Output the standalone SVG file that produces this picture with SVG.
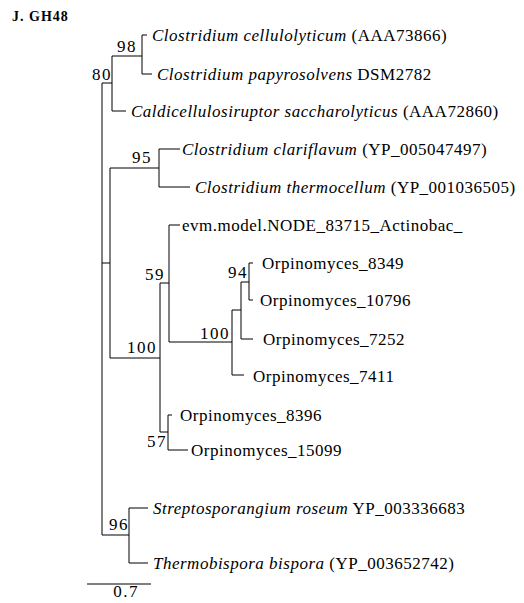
<svg xmlns="http://www.w3.org/2000/svg" width="524" height="603" viewBox="0 0 524 603">
<style>
.t{font-family:"Liberation Serif","Times New Roman",serif;font-size:17px;fill:#000;letter-spacing:0.5px}
.i{font-style:italic}
.n{font-family:"Liberation Serif","Times New Roman",serif;font-size:17px;fill:#000;letter-spacing:1.5px;text-anchor:end}
.title{font-family:"Liberation Serif","Times New Roman",serif;font-size:14px;font-weight:bold;fill:#000;letter-spacing:1px}
#edges path{fill:none;stroke:#000;stroke-width:1}
</style>
<rect width="524" height="603" fill="#fff"/>
<text class="title" x="12" y="21">J. GH48</text>
<g id="edges">
<path d="M102,83V535M102,83H112M102,263H110M102,535H129"/>
<path d="M112,56V111M112,56H142M112,111H126"/>
<path d="M142,35V74M142,35H147M142,74H152"/>
<path d="M110,168V358M110,168H159M110,358H160"/>
<path d="M159,149V187M159,149H180M159,187H190"/>
<path d="M160,283V432M160,283H169M160,432H168"/>
<path d="M169,225V342M169,225H180M169,342H232"/>
<path d="M232,310V375M232,310H241M232,375H244"/>
<path d="M241,282V339M241,282H249M241,339H253"/>
<path d="M249,263V300M249,263H253M249,300H253"/>
<path d="M168,415V450M168,415H172M168,450H188"/>
<path d="M129,508V563M129,508H148M129,563H148"/>
<path d="M87,584H151"/>
</g>
<g id="n98"><text class="n" x="137" y="52">98</text></g>
<g id="n80"><text class="n" x="112" y="80">80</text></g>
<g id="n95"><text class="n" x="152" y="163">95</text></g>
<g id="n59"><text class="n" x="165" y="280">59</text></g>
<g id="n94"><text class="n" x="248" y="278">94</text></g>
<g id="n100b"><text class="n" x="230" y="339">100</text></g>
<g id="n100a"><text class="n" x="157" y="353">100</text></g>
<g id="n57"><text class="n" x="167" y="447">57</text></g>
<g id="n96"><text class="n" x="129" y="530">96</text></g>
<g id="l1"><text class="t" x="152" y="41"><tspan class="i">Clostridium cellulolyticum</tspan> (AAA73866)</text></g>
<g id="l2"><text class="t" x="157" y="80"><tspan class="i">Clostridium papyrosolvens</tspan> DSM2782</text></g>
<g id="l3"><text class="t" x="131" y="117"><tspan class="i">Caldicellulosiruptor saccharolyticus</tspan> (AAA72860)</text></g>
<g id="l4"><text class="t" x="182" y="155"><tspan class="i">Clostridium clariflavum</tspan> (YP_005047497)</text></g>
<g id="l5"><text class="t" x="195" y="193"><tspan class="i">Clostridium thermocellum</tspan> (YP_001036505)</text></g>
<g id="l6"><text class="t" x="182" y="231">evm.model.NODE_83715_Actinobac_</text></g>
<g id="l7"><text class="t" x="262" y="269">Orpinomyces_8349</text></g>
<g id="l8"><text class="t" x="260" y="306">Orpinomyces_10796</text></g>
<g id="l9"><text class="t" x="263" y="345">Orpinomyces_7252</text></g>
<g id="l10"><text class="t" x="253" y="382">Orpinomyces_7411</text></g>
<g id="l11"><text class="t" x="180" y="421">Orpinomyces_8396</text></g>
<g id="l12"><text class="t" x="191" y="456">Orpinomyces_15099</text></g>
<g id="l13"><text class="t" x="153" y="514"><tspan class="i">Streptosporangium roseum</tspan> YP_003336683</text></g>
<g id="l14"><text class="t" x="153" y="569"><tspan class="i">Thermobispora bispora</tspan> (YP_003652742)</text></g>
<g id="scale"><text class="n" x="139" y="597">0.7</text></g>
</svg>
